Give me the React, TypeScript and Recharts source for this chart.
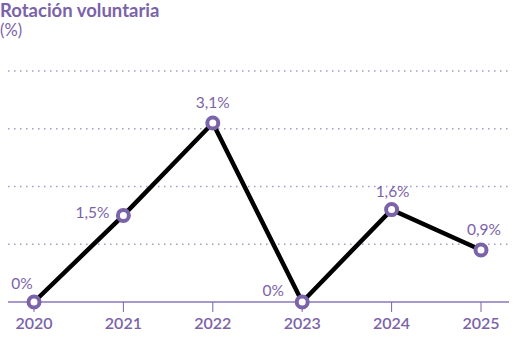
import { LineChart, Line, XAxis, YAxis, CartesianGrid, LabelList } from 'recharts';

const YEARS = ['2020', '2021', '2022', '2023', '2024', '2025'];
const RATES = [0, 1.5, 3.1, 0, 1.6, 0.9];
const Y_TICKS = [0, 1, 2, 3, 4];

// offsets of each value label relative to its point (dx, dy)
const LABEL_OFFSETS: [number, number][] = [
  [-12, -19],
  [-31, -3],
  [0, -21],
  [-29, -12],
  [1, -19],
  [3, -21],
];

const PURPLE = '#7b63a9';
const AXIS = '#a898cb';
const FONT = 'Lato, "Open Sans", sans-serif';

const data = YEARS.map((year, i) => ({ year, rate: RATES[i] }));

const fmt = (v: number) => `${String(v).replace('.', ',')}%`;

function ValueLabel(props: any) {
  const { x, y, value, index } = props;
  const [dx, dy] = LABEL_OFFSETS[index] ?? [0, -20];
  return (
    <text
      x={x + dx}
      y={y + dy}
      textAnchor="middle"
      dominantBaseline="central"
      fill={PURPLE}
      fontSize={15.5}
      fontFamily={FONT}
    >
      {fmt(value)}
    </text>
  );
}

export default function App() {
  return (
    <div style={{ position: 'absolute', left: 0, top: 0, width: 526, height: 337, background: '#fff', fontFamily: FONT }}>
      <div style={{ position: 'absolute', left: 0, top: 0, color: PURPLE, fontSize: 18.5, fontWeight: 700, lineHeight: '20px', whiteSpace: 'nowrap' }}>
        Rotación voluntaria
      </div>
      <div style={{ position: 'absolute', left: 0, top: 21, color: PURPLE, fontSize: 16.5, lineHeight: '18px' }}>
        (%)
      </div>
      <LineChart
        width={526}
        height={337}
        data={data}
        margin={{ top: 71, right: 17, bottom: 5, left: 8 }}
      >
        <CartesianGrid
          vertical={false}
          stroke={AXIS}
          strokeWidth={1.5}
          strokeDasharray="1.5 4.5"
        />
        <YAxis hide domain={[0, 4]} ticks={Y_TICKS} />
        <XAxis
          dataKey="year"
          height={30}
          padding={{ left: 26, right: 28 }}
          axisLine={{ stroke: AXIS, strokeWidth: 2 }}
          tickLine={{ stroke: PURPLE, strokeWidth: 1 }}
          tickSize={10}
          tick={{ fill: PURPLE, fontSize: 16, fontWeight: 600, fontFamily: FONT, dy: 4 }}
        />
        <Line
          dataKey="rate"
          type="linear"
          stroke="#000"
          strokeWidth={4.5}
          isAnimationActive={false}
          dot={{ r: 5.5, stroke: PURPLE, strokeWidth: 4, fill: '#fff' }}
        >
          <LabelList dataKey="rate" content={ValueLabel} />
        </Line>
      </LineChart>
    </div>
  );
}
